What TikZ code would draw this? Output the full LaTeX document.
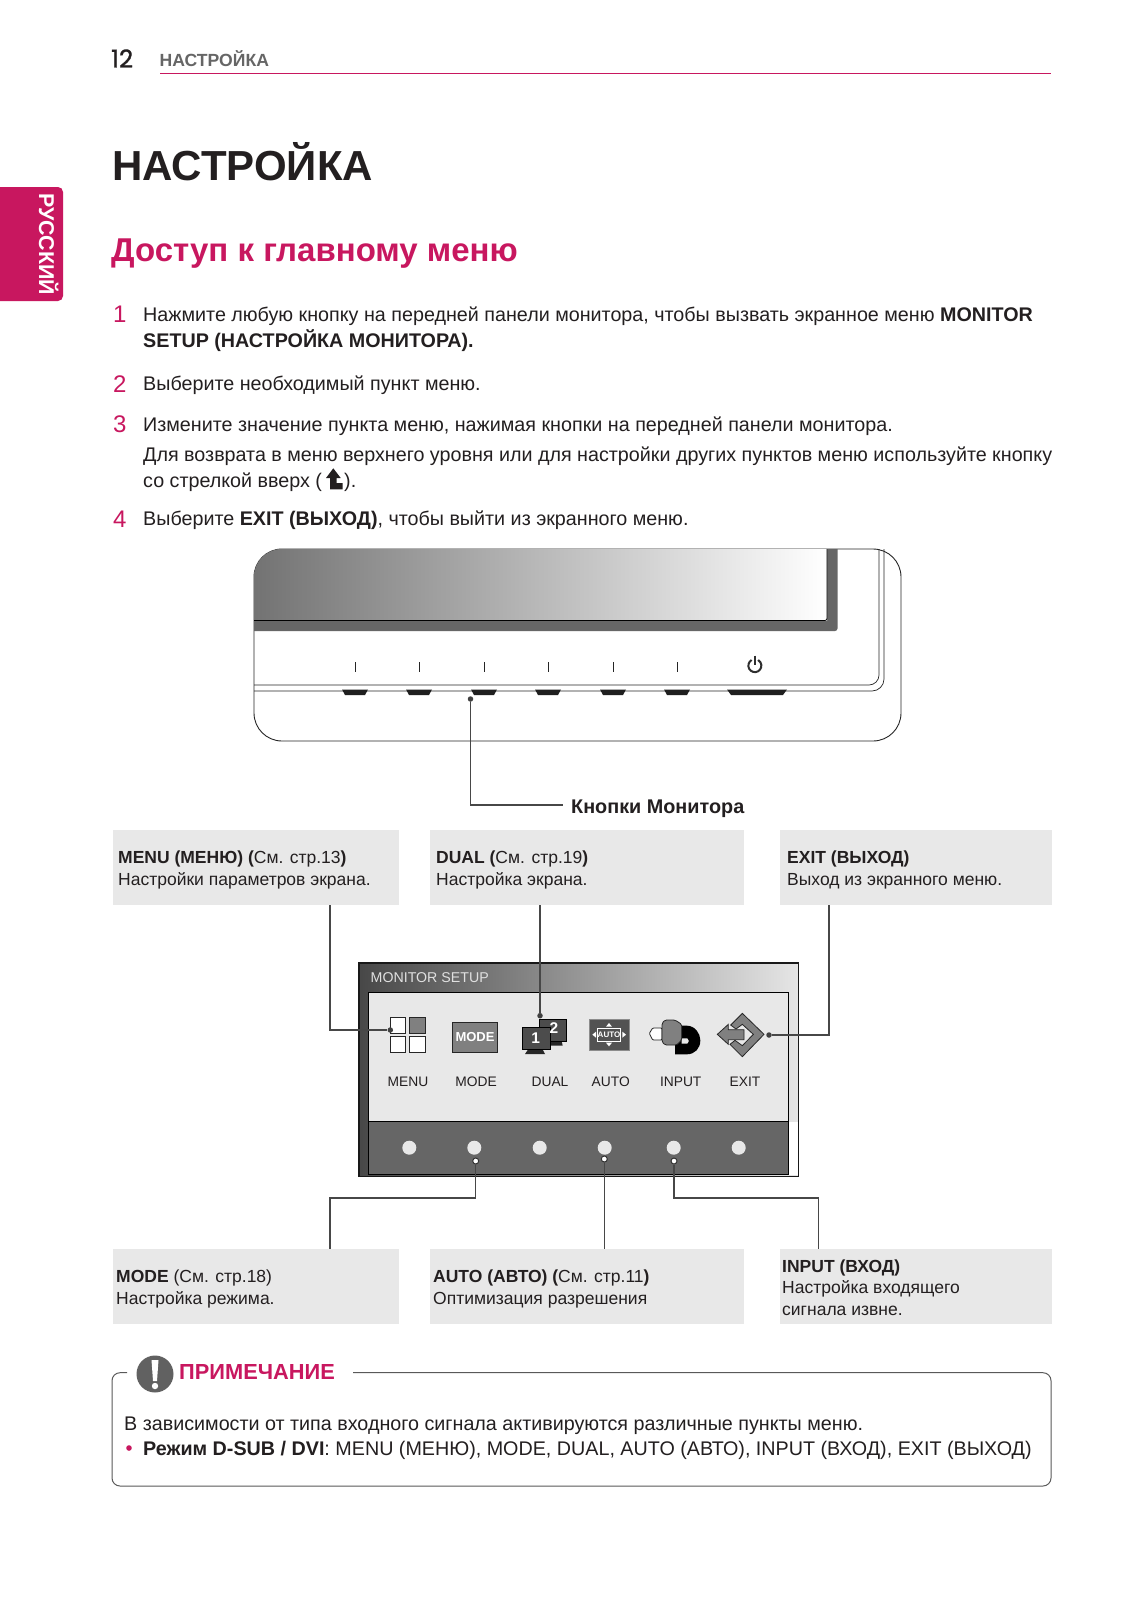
\documentclass[tikz,border=0pt]{standalone}
\usepackage{fontspec}
\setmainfont{Liberation Sans}
\newfontfamily\popf[FakeBold=1.2]{Poppins}
\definecolor{lgpink}{HTML}{C8175F}
\definecolor{txt}{HTML}{231F20}
\definecolor{boxgray}{HTML}{E8E8E8}
\definecolor{hdgray}{HTML}{666666}
\newcommand{\fs}[1]{\fontsize{#1}{#1}\selectfont}
\tikzset{
 bodytext/.style={anchor=base west,inner sep=0pt,text=txt,font=\fs{19.72}},
 stepnum/.style={anchor=base west,inner sep=0pt,text=lgpink,font=\fs{24}},
 boxtext/.style={anchor=base west,inner sep=0pt,text=txt,font=\fs{17.5}},
 panellabel/.style={anchor=base,inner sep=0pt,text=txt,font=\fs{13.8}},
 infobox/.style={fill=boxgray,draw=none,inner sep=0pt,anchor=north west},
 connector/.style={draw=black!72,line width=1.3pt},
 hw/.style={draw=black!85,line width=0.9pt},
 tickmark/.style={draw=black!85,line width=0.8pt},
 pressbtn/.style={fill=black!88,draw=none},
 paneldot/.style={circle,fill=boxgray,draw=none,minimum size=14pt,inner sep=0pt},
 ring/.style={circle,fill=white,draw=black!80,line width=1pt,minimum size=6pt,inner sep=0pt},
 blackdot/.style={circle,fill=black!75,draw=none,minimum size=5.5pt,inner sep=0pt},
 iconline/.style={draw=black!85,line width=0.8pt},
 zoomA/.style={shift={(640,1005)},x=0.33333pt,y=-0.33333pt},
 zoomB/.style={shift={(510,1005)},x=0.33333pt,y=-0.33333pt},
}
\begin{document}
\begin{tikzpicture}[x=1pt,y=-1pt]
\useasboundingbox (0,0) rectangle (1134,1600);
\fill[white] (0,0) rectangle (1134,1600);
% header
\node[anchor=base west,inner sep=0pt,text=txt,font=\popf\fs{24.5}] (pg) at (111,67.5) {12};
\node[anchor=base west,inner sep=0pt,text=hdgray,font=\bfseries\fs{17.6}] (hd) at (159.5,66.5) {НАСТРОЙКА};
\draw[lgpink,line width=1.2pt] (160,73.5) -- (1051,73.5);
% side tab
\fill[lgpink,rounded corners=5pt] (-10,187) rectangle (63,301);
\node[rotate=-90,anchor=base west,inner sep=0pt,text=white,font=\bfseries\fs{21.4}] (tab) at (39,193) {РУССКИЙ};
% title
\node[anchor=base west,inner sep=0pt,text=txt,font=\bfseries\fs{42}] (title) at (112,180) {НАСТРОЙКА};
\node[anchor=base west,inner sep=0pt,text=lgpink,font=\bfseries\fs{33}] (sub) at (111,261) {Доступ к главному меню};
% steps
\node[stepnum] (n1) at (113,322.5) {1};
\node[bodytext] (s1a) at (143,321) {Нажмите любую кнопку на передней панели монитора, чтобы вызвать экранное меню \textbf{MONITOR}};
\node[bodytext] (s1b) at (143,347) {\textbf{SETUP (НАСТРОЙКА МОНИТОРА).}};
\node[stepnum] (n2) at (113,392) {2};
\node[bodytext] (s2) at (143,390) {Выберите необходимый пункт меню.};
\node[stepnum] (n3) at (113,432) {3};
\node[bodytext] (s3a) at (143,431.5) {Измените значение пункта меню, нажимая кнопки на передней панели монитора.};
\node[bodytext] (s3b) at (143,461.5) {Для возврата в меню верхнего уровня или для настройки других пунктов меню используйте кнопку};
\node[bodytext] (s3c) at (143,487.5) {со стрелкой вверх (};
\fill[txt] (333.3,468.3) -- (340.7,478) -- (336.7,478) -- (336.7,483) -- (342.7,483) -- (342.7,489.3) -- (330,489.3) -- (330,478) -- (326,478) -- cycle;
\node[bodytext] (s3d) at (344,487.5) {).};
\node[stepnum] (n4) at (113,527) {4};
\node[bodytext] (s4) at (143,525) {Выберите \textbf{EXIT (ВЫХОД)}, чтобы выйти из экранного меню.};
% monitor
\draw[hw,rounded corners=28pt] (254,549) rectangle (901,741);
\begin{scope}
 \clip[rounded corners=28pt] (254,800) -- (254,549) -- (900,549) -- (900,800) -- cycle;
 \fill[hdgray,rounded corners=2.5pt] (240,530) rectangle (837.5,631);
 \shade[left color=black!55,right color=white] (254,549) rectangle (827,620.5);
\end{scope}
\draw[black,line width=0.8pt,rounded corners=2pt] (827,549) -- (827,620.5) -- (254,620.5);
\draw[hw,line width=0.7pt,rounded corners=10pt] (254,685) -- (879,685) -- (879,549);
\draw[hw,line width=0.7pt,rounded corners=12pt] (254,691) -- (884,691) -- (884,549);
\foreach \tx in {355,419,484,548,613,677}{
 \draw[tickmark] (\tx,662) -- (\tx,672);
 \fill[pressbtn] (\tx-13,689.5) -- (\tx+13,689.5) -- (\tx+10,695) -- (\tx-10,695) -- cycle;
}
\fill[pressbtn] (727,689.5) -- (787,689.5) -- (783,695) -- (731,695) -- cycle;
\draw[black!82,line width=2pt] (751.6,660) arc[start angle=120,end angle=420,radius=6.5pt];
\draw[black!82,line width=2pt] (755,655.5) -- (755,665);
\node[blackdot] (kdot) at (470.5,699) {};
\coordinate (kcorner) at (470.5,805);
\coordinate (kend) at (563,805);
\node[anchor=base west,inner sep=0pt,text=txt,font=\bfseries\fs{19.8}] (klabel) at (571,813) {Кнопки Монитора};
\draw[connector] (kdot) -- (kcorner) -- (kend);
% info boxes top
\node[infobox,minimum width=286pt,minimum height=75pt] (b1) at (113,830) {};
\node[infobox,minimum width=314pt,minimum height=75pt] (b2) at (430,830) {};
\node[infobox,minimum width=272pt,minimum height=75pt] (b3) at (780,830) {};
\node[boxtext] (t1a) at (118,863) {\textbf{MENU (МЕНЮ) (}См. стр.13\textbf{)}};
\node[boxtext] (t1b) at (118,885) {Настройки параметров экрана.};
\node[boxtext] (t2a) at (436,863) {\textbf{DUAL (}См. стр.19\textbf{)}};
\node[boxtext] (t2b) at (436,885) {Настройка экрана.};
\node[boxtext] (t3a) at (787,863) {\textbf{EXIT (ВЫХОД)}};
\node[boxtext] (t3b) at (787,885) {Выход из экранного меню.};
% info boxes bottom
\node[infobox,minimum width=286pt,minimum height=75pt] (b4) at (113,1249) {};
\node[infobox,minimum width=314pt,minimum height=75pt] (b5) at (430,1249) {};
\node[infobox,minimum width=272pt,minimum height=75pt] (b6) at (780,1249) {};
\node[boxtext] (t4a) at (116,1282.5) {\textbf{MODE} (См. стр.18)};
\node[boxtext] (t4b) at (116,1304.5) {Настройка режима.};
\node[boxtext] (t5a) at (433,1282.5) {\textbf{AUTO (АВТО) (}См. стр.11\textbf{)}};
\node[boxtext] (t5b) at (433,1304.5) {Оптимизация разрешения};
\node[boxtext] (t6a) at (782,1272) {\textbf{INPUT (ВХОД)}};
\node[boxtext] (t6b) at (782,1293.5) {Настройка входящего};
\node[boxtext] (t6c) at (782,1315.5) {сигнала извне.};
% panel
\shade[left color=black!72,right color=black!10] (359,963) rectangle (798.7,1176.7);
\fill[white] (788.7,1121.7) rectangle (798,1175);
\fill[boxgray] (368.3,992) rectangle (788.7,1121.7);
\fill[hdgray] (368.3,1121.7) rectangle (788.7,1174);
\draw[black,line width=0.8pt] (368.3,992) rectangle (788.7,1174);
\draw[black,line width=0.8pt] (368.3,1121.7) -- (788.7,1121.7);
\draw[black!90,line width=1.4pt] (359,963) rectangle (798.7,1176.7);
\node[anchor=base west,inner sep=0pt,text=black!12,font=\fs{14.2}] (ptitle) at (370.5,982) {MONITOR SETUP};
% icon MENU
\draw[iconline,fill=white] (390,1017.7) rectangle (405.7,1033.3);
\draw[iconline,fill=black!50] (409,1017.7) rectangle (425,1033.3);
\draw[iconline,fill=white] (390,1036.7) rectangle (405.7,1052.7);
\draw[iconline,fill=white] (409,1036.7) rectangle (425,1052.7);
% icon MODE
\node[draw=black!85,line width=0.8pt,fill=black!50,minimum width=45.4pt,minimum height=30.4pt,inner sep=0pt,text=white,font=\bfseries\fs{13}] (imode) at (475,1037.5) {MODE};
% icon DUAL
\begin{scope}[zoomB]
 \fill[black!85] (120,108) -- (155,108) -- (158,122) -- (120,122) -- cycle;
 \draw[black,line width=0.6pt,fill=black!70] (88,42) rectangle (170,108);
 \fill[black!85] (55,132) -- (97,132) -- (105,147) -- (45,147) -- cycle;
 \draw[black,line width=0.6pt,fill=black!70] (37,67) rectangle (120,132);
 \node[inner sep=0pt,text=white,font=\bfseries\fs{15.5}] (idtwo) at (132,70) {2};
 \node[inner sep=0pt,text=white,font=\bfseries\fs{15.5}] (idone) at (77,100) {1};
\end{scope}
% icon AUTO
\begin{scope}[zoomB]
 \draw[black!45,line width=0.5pt,fill=black!68] (237,44) rectangle (358,135);
 \node[draw=white,line width=0.8pt,inner sep=0pt,minimum width=23pt,minimum height=12.5pt,text=white,font=\bfseries\fs{8}] (iauto) at (297,89) {AUTO};
 \fill[white] (297,54) -- (306,65) -- (288,65) -- cycle;
 \fill[white] (297,124) -- (306,113) -- (288,113) -- cycle;
 \fill[white] (247,89) -- (258,80) -- (258,98) -- cycle;
 \fill[white] (348,89) -- (337,80) -- (337,98) -- cycle;
\end{scope}
% icon INPUT
\begin{scope}[zoomA]
 \fill[black] (105,62) -- (140,62) .. controls (165,62) and (181,85) .. (181,106) .. controls (181,130) and (165,148) .. (140,148) -- (105,148) -- cycle;
 \fill[boxgray] (125,100) -- (142,100) .. controls (148,103) and (148,113) .. (142,116) -- (125,116) -- cycle;
 \draw[iconline,fill=white,rounded corners=1pt] (66,69) -- (38,69) -- (28,85) -- (38,105) -- (66,105) -- cycle;
 \draw[iconline,fill=black!50,rounded corners=1.5pt] (66,55) -- (75,45) -- (105,45) -- (125,58) -- (125,105) -- (110,120) -- (75,120) -- (66,110) -- cycle;
\end{scope}
% icon EXIT
\begin{scope}[zoomA]
 \draw[iconline,fill=black!50] (272,60) -- (307,25) -- (372,88) -- (307,155) -- (270,118) -- (285,106) -- (307,122) -- (340,88) -- (307,58) -- (288,72) -- cycle;
 \draw[iconline,fill=black!50] (232,88) -- (265,58) -- (265,74) -- (312,74) -- (312,104) -- (265,104) -- (265,118) -- cycle;
\end{scope}
% labels
\node[panellabel] (lmenu) at (408,1086.5) {MENU};
\node[panellabel] (lmode) at (476,1086.5) {MODE};
\node[panellabel] (ldual) at (550,1086.5) {DUAL};
\node[panellabel] (lauto) at (610.7,1086.5) {AUTO};
\node[panellabel] (linput) at (680.7,1086.5) {INPUT};
\node[panellabel] (lexit) at (745,1086.5) {EXIT};
% panel dots
\node[paneldot] (d1) at (409.3,1147.7) {};
\node[paneldot] (d2) at (474.3,1147.7) {};
\node[paneldot] (d3) at (539.7,1147.7) {};
\node[paneldot] (d4) at (604.7,1147.7) {};
\node[paneldot] (d5) at (673.7,1147.7) {};
\node[paneldot] (d6) at (738.7,1147.7) {};
% connectors
\node[blackdot] (cmenu) at (390.3,1030) {};
\node[blackdot] (cdual) at (540,1015.7) {};
\node[blackdot] (cexit) at (769,1035) {};
\node[ring] (cmode) at (475.7,1161) {};
\node[ring] (cautod) at (604.3,1159) {};
\node[ring] (cinput) at (674,1161) {};
\coordinate (b1x) at (330,905);
\coordinate (b2x) at (540,905);
\coordinate (b3x) at (829,905);
\coordinate (b4x) at (330,1249);
\coordinate (b5x) at (604.3,1249);
\coordinate (b6x) at (818.5,1249);
\coordinate (modec) at (330,1198);
\coordinate (inputc) at (818.5,1198);
\draw[connector] (b1x) |- (cmenu);
\draw[connector] (b2x) -- (cdual);
\draw[connector] (b3x) |- (cexit);
\draw[connector] (cmode) |- (modec) -- (b4x);
\draw[connector] (cautod) -- (b5x);
\draw[connector] (cinput) |- (inputc) -- (b6x);
% note
\draw[black!65,line width=1pt,rounded corners=8pt] (127,1372.7) -- (112,1372.7) -- (112,1486) -- (1051,1486) -- (1051,1372.7) -- (353,1372.7);
\fill[black!62] (155,1374) circle[radius=18.5pt];
\fill[white] (151.5,1360) -- (158.5,1360) -- (157,1381) -- (153,1381) -- cycle;
\fill[white] (155,1386) circle[radius=3.2pt];
\node[anchor=base west,inner sep=0pt,text=lgpink,font=\bfseries\fs{21.8}] (nt) at (179,1379) {ПРИМЕЧАНИЕ};
\node[bodytext] (na) at (124,1430) {В зависимости от типа входного сигнала активируются различные пункты меню.};
\fill[lgpink] (129,1448) circle[radius=2.8pt];
\node[bodytext] (nb) at (143,1455) {\textbf{Режим D-SUB / DVI}: MENU (МЕНЮ), MODE, DUAL, AUTO (АВТО), INPUT (ВХОД), EXIT (ВЫХОД)};
\end{tikzpicture}
\end{document}
